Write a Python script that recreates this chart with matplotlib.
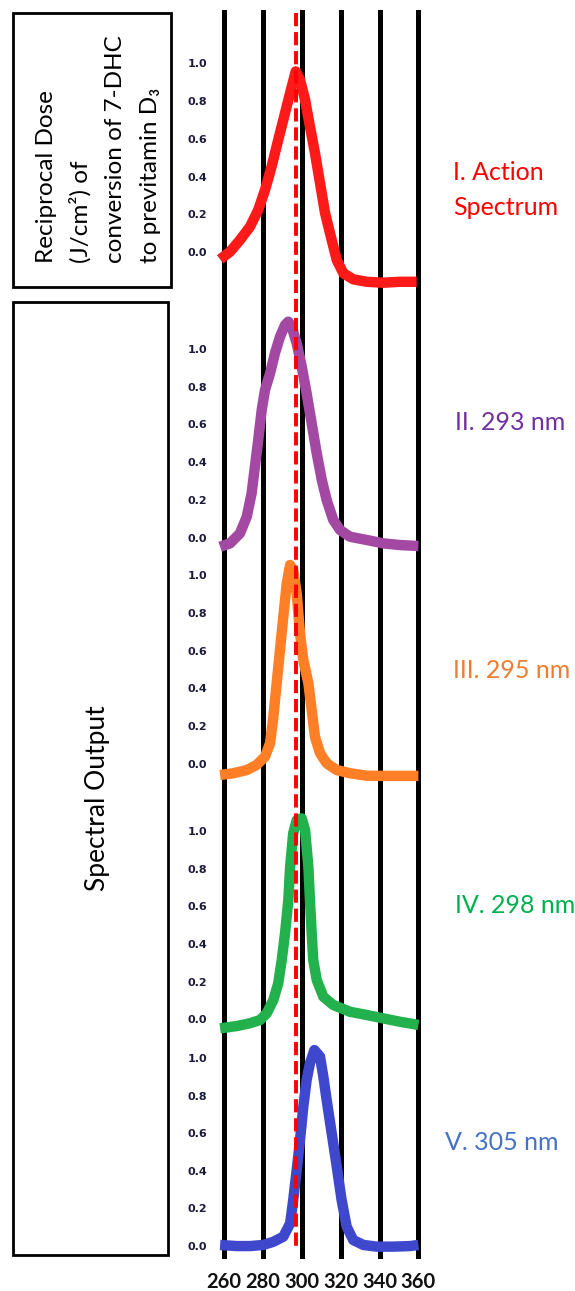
import matplotlib.pyplot as plt
from matplotlib.patches import Rectangle

W, H = 575, 1291

# wavelengths (nm) and relative values
wl_action = [258, 263.1, 268.2, 273.4, 277.6, 281.1, 284.5, 287.9, 291.4, 294.0, 296.9, 299.1, 301.7,
             304.2, 306.8, 309.4, 312.0, 315.4, 318.0, 321.4, 326.5, 333.4, 341.9, 350.5, 359.1]
action = [-0.037, 0.003, 0.065, 0.136, 0.224, 0.330, 0.454, 0.595, 0.737, 0.843, 0.957, 0.913, 0.807,
          0.666, 0.525, 0.366, 0.207, 0.065, -0.041, -0.111, -0.143, -0.156, -0.161, -0.156, -0.156]

wl_293 = [258, 263.1, 268.2, 271.7, 274.2, 275.9, 277.6, 279.4, 281.1, 283.7, 286.2, 288.8, 291.4, 293.1,
          294.8, 297.4, 300.0, 302.5, 305.1, 307.7, 310.3, 312.8, 316.2, 319.7, 324.8, 333.4, 341.9, 350.5, 360]
out_293 = [-0.048, -0.030, 0.023, 0.111, 0.235, 0.376, 0.518, 0.677, 0.783, 0.871, 0.977, 1.065, 1.127, 1.145,
           1.118, 1.030, 0.906, 0.765, 0.606, 0.447, 0.306, 0.200, 0.094, 0.041, 0.005, -0.012, -0.030, -0.039, -0.044]

wl_295 = [258, 264.8, 271.7, 276.8, 281.1, 283.7, 285.4, 287.1, 288.8, 290.5, 292.3, 294.0, 295.6,
          297.4, 299.1, 300.8, 303.4, 305.1, 306.8, 309.4, 312.8, 318.0, 324.8, 333.4, 341.9, 360]
out_295 = [-0.058, -0.049, -0.032, -0.005, 0.039, 0.110, 0.250, 0.427, 0.603, 0.779, 0.956, 1.053, 1.026,
           0.903, 0.691, 0.550, 0.427, 0.286, 0.144, 0.057, 0.004, -0.032, -0.049, -0.062, -0.063, -0.063]

wl_298 = [258, 266.5, 273.4, 278.5, 282.0, 285.4, 287.9, 289.7, 291.4, 293.1, 294.0, 295.6, 297.4, 300.0,
          301.7, 303.4, 304.2, 305.1, 305.9, 307.7, 311.1, 316.2, 324.8, 333.4, 341.9, 350.5, 360]
out_298 = [-0.048, -0.036, -0.021, -0.004, 0.032, 0.103, 0.191, 0.315, 0.457, 0.634, 0.810, 0.988, 1.058, 1.067,
           1.005, 0.810, 0.634, 0.457, 0.315, 0.209, 0.120, 0.076, 0.040, 0.023, 0.005, -0.013, -0.030]

wl_305 = [258, 266.5, 273.4, 280.2, 285.4, 290.5, 294.0, 295.6, 297.4, 299.1, 300.8, 302.5, 304.2, 306.5,
          309.4, 311.1, 312.8, 315.4, 318.0, 320.5, 323.1, 326.5, 331.7, 338.5, 347.1, 355.7, 360]
out_305 = [0.004, -0.002, -0.002, 0.004, 0.021, 0.048, 0.119, 0.244, 0.404, 0.564, 0.742, 0.884, 0.973, 1.044,
           1.009, 0.902, 0.778, 0.600, 0.422, 0.244, 0.101, 0.030, 0.004, -0.005, -0.005, -0.002, 0.004]

grid_wl = [260, 280, 300, 320, 340, 360]
peak_wl = 297
tick_vals = [0.0, 0.2, 0.4, 0.6, 0.8, 1.0]

labels = ['I. Action\nSpectrum', 'II. 293 nm', 'III. 295 nm', 'IV. 298 nm', 'V. 305 nm']
label_colors = ['#FF0000', '#7030A0', '#ED7D31', '#00B050', '#4472C4']
curve_colors = ['#FF1A1A', '#A349A4', '#FF7F27', '#22B14C', '#3F48CC']

fig = plt.figure(figsize=(W / 100, H / 100), dpi=100)
fam = ['Lato', 'DejaVu Sans']

x0, x1 = 224, 418.4  # pixel columns of 260 and 360 nm


def rect(top, bot):
    return [x0 / W, 1 - bot / H, (x1 - x0) / W, (bot - top) / H]


# black grid lines behind everything
bg = fig.add_axes(rect(0, H))
bg.set_xlim(260, 360)
bg.set_ylim(H, 0)
bg.axis('off')
bg.vlines(grid_wl, 10, 1258, colors='black', lw=3.3, antialiased=False, clip_on=False)

# panels: (top px of 1.0, bottom px of 0.0)
spans = [(63.3, 252.3), (349, 537.7), (575, 764), (831, 1019.3), (1058.3, 1245.7)]
series = [(wl_action, action), (wl_293, out_293), (wl_295, out_295), (wl_298, out_298), (wl_305, out_305)]

axes = []
for (wl, val), (top, bot), c in zip(series, spans, curve_colors):
    ax = fig.add_axes(rect(top, bot))
    ax.patch.set_visible(False)
    ax.plot(wl, val, color=c, lw=7.5, clip_on=False, solid_joinstyle='round', solid_capstyle='butt')
    ax.set_xlim(260, 360)
    ax.set_ylim(0, 1)
    ax.set_yticks(tick_vals)
    ax.set_yticklabels(['%.1f' % t for t in tick_vals], fontsize=8, fontweight='bold',
                       color='#1A1A3A', family='DejaVu Sans')
    ax.tick_params(axis='y', length=0, pad=12)
    ax.set_xticks([])
    for s in ax.spines.values():
        s.set_visible(False)
    axes.append(ax)

last = axes[-1]
last.set_xticks(grid_wl)
last.set_xticklabels([str(g) for g in grid_wl], fontsize=14.5, fontweight='bold', family=fam, color='#111111')
last.tick_params(axis='x', length=0, pad=19)

# red dashed line on top
top_ax = fig.add_axes(rect(0, H))
top_ax.set_xlim(260, 360)
top_ax.set_ylim(H, 0)
top_ax.axis('off')
top_ax.vlines(peak_wl, 13, 1247, colors='#FF0000', lw=2.8, linestyles=(0, (3.4, 1.5)))

# boxes and text
ov = fig.add_axes([0, 0, 1, 1])
ov.set_xlim(0, W)
ov.set_ylim(H, 0)
ov.axis('off')
ov.add_patch(Rectangle((13, 13), 158, 274, fill=False, lw=2, ec='black'))
ov.add_patch(Rectangle((13, 302), 155, 953, fill=False, lw=2, ec='black'))

box_lines = ['Reciprocal Dose', '(J/cm²) of', 'conversion of 7-DHC', 'to previtamin D₃']
for xb, txt in zip([53, 88, 122, 157], box_lines):
    ov.text(xb, 263, txt, rotation=90, rotation_mode='anchor', ha='left', va='baseline',
            fontsize=17.5, family=fam, color='black')
ov.text(97, 798, 'Spectral Output', rotation=90, ha='center', va='center', fontsize=19, family=fam)

label_pos = [(453, 180), (455, 430), (453, 678), (455, 913), (445, 1150)]
for (lx, ly), txt, c in zip(label_pos, labels, label_colors):
    if '\n' in txt:
        a, b = txt.split('\n')
        ov.text(lx, ly, a, color=c, fontsize=18, family=fam, ha='left', va='baseline')
        ov.text(lx, ly + 35, b, color=c, fontsize=18, family=fam, ha='left', va='baseline')
    else:
        ov.text(lx, ly, txt, color=c, fontsize=18, family=fam, ha='left', va='baseline')

fig.savefig('out.png', dpi=100)
